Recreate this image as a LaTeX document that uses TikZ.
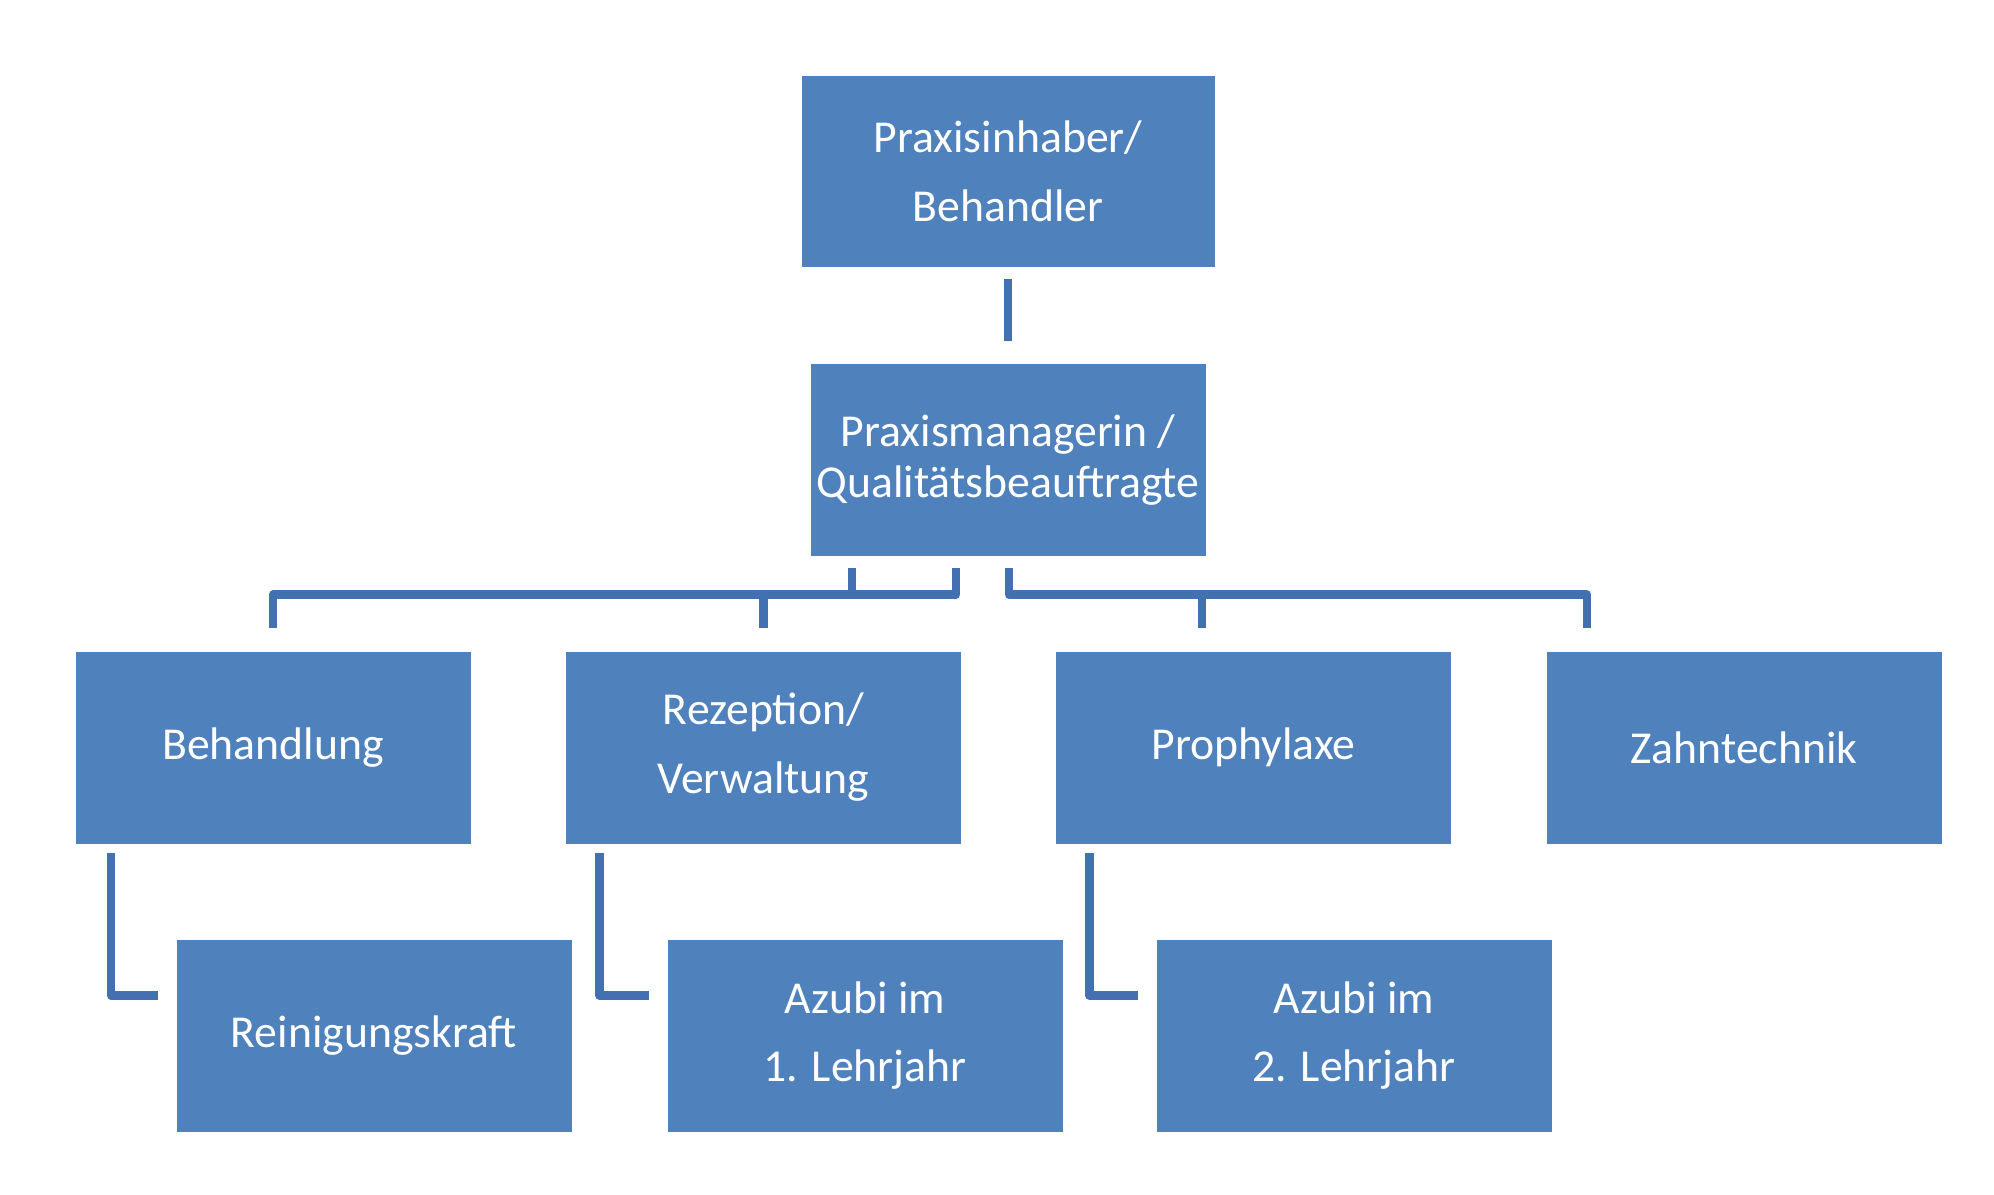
\documentclass[tikz,border=0pt]{standalone}
\usepackage{fontspec}
\setmainfont{Carlito}
\usetikzlibrary{calc}
\definecolor{boxblue}{RGB}{79,129,189}
\definecolor{lineblue}{RGB}{66,112,176}
\begin{document}
\begin{tikzpicture}[
  box/.style={fill=boxblue, text=white, minimum width=3.95cm, minimum height=1.92cm,
    inner sep=0pt, align=center, font=\fontsize{13}{19.6}\selectfont},
  link/.style={draw=lineblue, line width=0.085cm, line join=round}]
\useasboundingbox (0,0) rectangle (19.94,11.94);
\node[box, minimum width=4.13cm, minimum height=1.91cm] (top) at (10.08,10.225) {Praxisinhaber/\\Behandler};
\node[box, font=\fontsize{13}{14.6}\selectfont] (mgr) at (10.08,7.34) {Praxismanagerin /\\Qualitätsbeauftragte};
\node[box] (behandl) at (2.73,4.465) {Behandlung};
\node[box] (rezep) at (7.635,4.465) {Rezeption/\\Verwaltung};
\node[box] (prophy) at (12.535,4.465) {Prophylaxe};
\node[box] (zahn) at (17.44,4.465) {Zahntechnik};
\node[box] (reinig) at (3.74,1.585) {Reinigungskraft};
\node[box] (azubiA) at (8.65,1.585) {Azubi im\\1. Lehrjahr};
\node[box] (azubiB) at (13.54,1.585) {Azubi im\\2. Lehrjahr};
\coordinate (bus) at ([yshift=-0.38cm]mgr.south);
\draw[link, shorten <=0.11cm, shorten >=0.22cm] (top) -- (mgr);
\draw[link] ([xshift=-0.52cm,yshift=-0.11cm]mgr.south) -- ++(0,-0.27) -| ([yshift=0.23cm]behandl.north);
\draw[link] ([xshift=-1.56cm,yshift=-0.11cm]mgr.south) -- ([xshift=-1.56cm]bus);
\draw[link] (rezep.north |- bus) -- ([yshift=0.23cm]rezep.north);
\draw[link] ([xshift=0.01cm,yshift=-0.11cm]mgr.south) -- ++(0,-0.27) -| ([xshift=-1.57cm,yshift=0.23cm]zahn.north);
\draw[link] ([xshift=-0.515cm]prophy.north |- bus) -- ([xshift=-0.515cm,yshift=0.23cm]prophy.north);
\draw[link] ([xshift=0.36cm,yshift=-0.09cm]behandl.south west) |- ([xshift=-0.18cm,yshift=0.40cm]reinig.west);
\draw[link] ([xshift=0.34cm,yshift=-0.09cm]rezep.south west) |- ([xshift=-0.18cm,yshift=0.40cm]azubiA.west);
\draw[link] ([xshift=0.34cm,yshift=-0.09cm]prophy.south west) |- ([xshift=-0.18cm,yshift=0.40cm]azubiB.west);
\end{tikzpicture}
\end{document}
